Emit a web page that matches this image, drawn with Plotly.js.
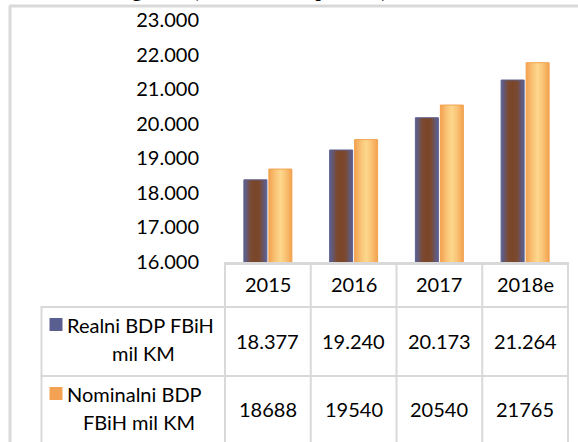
<!DOCTYPE html>
<html>
<head>
<meta charset="utf-8">
<script src="https://cdn.plot.ly/plotly-3.0.1.min.js"></script>
<style>
  html, body { margin: 0; padding: 0; background: #fff; }
  #chart { width: 578px; height: 442px; }
</style>
</head>
<body>
<div id="chart"></div>
<script>
// ---- data ----
const categories = ['2015', '2016', '2017', '2018e'];
const realniValues = [18377, 19240, 20173, 21264];
const nominalniValues = [18688, 19540, 20540, 21765];
const realniName = ['Realni BDP FBiH', 'mil KM'];
const nominalniName = ['Nominalni BDP', 'FBiH mil KM'];
const yTickVals = [16000, 17000, 18000, 19000, 20000, 21000, 22000, 23000];
const titleText = 'BDP FBiH za 2015-2018. godina (u mil KM i stopa rasta)';

// ---- geometry helpers (pixel -> paper) ----
const W = 578, H = 442;
const M = { l: 225, r: 10, t: 20, b: 180 };
const plotW = W - M.l - M.r, plotH = H - M.t - M.b;
const px = x => (x - M.l) / plotW;
const py = y => (H - M.b - y) / plotH;

const grid = '#d9d9d9';
const font = 'Lato, "Open Sans", sans-serif';

function fmtDot(v) {
  return String(v).replace(/\B(?=(\d{3})+(?!\d))/g, '.');
}

const traces = [
  { type: 'bar', name: realniName.join(' '), x: categories, y: realniValues,
    marker: { color: '#7B4A30', line: { color: '#5C6190', width: 1 } }, hoverinfo: 'none' },
  { type: 'bar', name: nominalniName.join(' '), x: categories, y: nominalniValues,
    marker: { color: '#FBCB7E', line: { color: '#F3A24F', width: 1 } }, hoverinfo: 'none' }
];

const shapes = [];
const annotations = [];
const n = categories.length;

// outer frame
shapes.push({ type: 'line', xref: 'paper', yref: 'paper', x0: px(10), x1: px(10), y0: py(6), y1: py(450), line: { color: grid, width: 3 } });
shapes.push({ type: 'line', xref: 'paper', yref: 'paper', x0: px(9), x1: px(590), y0: py(6), y1: py(6), line: { color: grid, width: 3 } });

// table rows (pixel y boundaries)
const rowTop = 262, row1 = 307, row2 = 376, rowBottom = 460;
const legLeft = 41.5;
for (let i = 0; i <= n; i++) {
  shapes.push({ type: 'line', xref: 'paper', yref: 'paper', x0: i / n, x1: i / n, y0: py(rowTop), y1: py(rowBottom), line: { color: grid, width: 2 } });
}
shapes.push({ type: 'line', xref: 'paper', yref: 'paper', x0: px(legLeft), x1: px(legLeft), y0: py(row1), y1: py(rowBottom), line: { color: grid, width: 2 } });
[row1, row2].forEach(r => {
  shapes.push({ type: 'line', xref: 'paper', yref: 'paper', x0: px(legLeft - 1), x1: 1, y0: py(r), y1: py(r), line: { color: grid, width: 2 } });
});

// legend keys
shapes.push({ type: 'rect', xref: 'paper', yref: 'paper', x0: px(49.5), x1: px(62.5), y0: py(318), y1: py(331), fillcolor: '#5A5F92', line: { width: 0 } });
shapes.push({ type: 'rect', xref: 'paper', yref: 'paper', x0: px(49.5), x1: px(62.5), y0: py(387), y1: py(400), fillcolor: '#F3A152', line: { width: 0 } });

const tf = { family: font, size: 20, color: '#000' };
// header row + values (x given as category index on the category axis)
categories.forEach((c, i) => {
  annotations.push({ xref: 'x', yref: 'paper', x: i, y: py(284), text: c, showarrow: false, font: tf, xanchor: 'center', yanchor: 'middle' });
  annotations.push({ xref: 'x', yref: 'paper', x: i, y: py(341), text: fmtDot(realniValues[i]), showarrow: false, font: tf, xanchor: 'center', yanchor: 'middle' });
  annotations.push({ xref: 'x', yref: 'paper', x: i, y: py(409), text: String(nominalniValues[i]), showarrow: false, font: tf, xanchor: 'center', yanchor: 'middle' });
});
// legend labels
annotations.push({ xref: 'paper', yref: 'paper', x: px(65), y: py(325), text: realniName[0], showarrow: false, font: tf, xanchor: 'left', yanchor: 'middle' });
annotations.push({ xref: 'paper', yref: 'paper', x: px(143), y: py(353), text: realniName[1], showarrow: false, font: tf, xanchor: 'center', yanchor: 'middle' });
annotations.push({ xref: 'paper', yref: 'paper', x: px(65), y: py(394), text: nominalniName[0], showarrow: false, font: tf, xanchor: 'left', yanchor: 'middle' });
annotations.push({ xref: 'paper', yref: 'paper', x: px(138.5), y: py(422), text: nominalniName[1], showarrow: false, font: tf, xanchor: 'center', yanchor: 'middle' });

// cut-off title at the very top
annotations.push({ xref: 'paper', yref: 'paper', x: px(390), y: py(-9), text: '<b>' + titleText + '</b>', showarrow: false,
  font: { family: '"Liberation Serif", "Times New Roman", serif', size: 19, color: '#000' }, xanchor: 'right', yanchor: 'middle' });

const layout = {
  width: W, height: H,
  margin: M,
  paper_bgcolor: '#fff', plot_bgcolor: '#fff',
  separators: ',.',
  showlegend: false,
  barmode: 'group', bargap: 0.417, bargroupgap: 0.08,
  font: { family: font, size: 20, color: '#000' },
  xaxis: { type: 'category', range: [-0.5, n - 0.5], showline: true, linecolor: grid, linewidth: 3,
           showticklabels: false, ticks: '', showgrid: false, zeroline: false, fixedrange: true },
  yaxis: { range: [16000, 23000], tickvals: yTickVals, tickformat: ',.0f', showgrid: false, zeroline: false,
           showline: false, ticks: 'outside', ticklen: 21, tickcolor: 'rgba(0,0,0,0)',
           tickfont: { family: font, size: 20, color: '#000' }, fixedrange: true },
  shapes: shapes,
  annotations: annotations
};

Plotly.newPlot('chart', traces, layout, { staticPlot: true, displayModeBar: false }).then(gd => {
  const svg = gd.querySelector('svg.main-svg');
  const NS = 'http://www.w3.org/2000/svg';
  const defs = document.createElementNS(NS, 'defs');
  function grad(id, stops) {
    const g = document.createElementNS(NS, 'linearGradient');
    g.setAttribute('id', id);
    g.setAttribute('x1', '0'); g.setAttribute('x2', '1'); g.setAttribute('y1', '0'); g.setAttribute('y2', '0');
    stops.forEach(([o, c]) => {
      const s = document.createElementNS(NS, 'stop');
      s.setAttribute('offset', o); s.setAttribute('stop-color', c);
      g.appendChild(s);
    });
    defs.appendChild(g);
  }
  grad('gradReal', [['0', '#5A6092'], ['0.1', '#625A7C'], ['0.3', '#7A4A33'], ['0.5', '#7B4528'], ['0.7', '#7A4A33'], ['0.9', '#625A7C'], ['1', '#5A6092']]);
  grad('gradNom', [['0', '#F3A24F'], ['0.3', '#FAC679'], ['0.5', '#FDD78C'], ['0.7', '#FAC679'], ['1', '#F3A24F']]);
  svg.insertBefore(defs, svg.firstChild);
  const traceGroups = gd.querySelectorAll('g.trace.bars');
  const ids = ['gradReal', 'gradNom'];
  traceGroups.forEach((tg, k) => {
    tg.querySelectorAll('path').forEach(p => { p.style.fill = 'url(#' + ids[k] + ')'; });
  });
});
</script>
</body>
</html>
